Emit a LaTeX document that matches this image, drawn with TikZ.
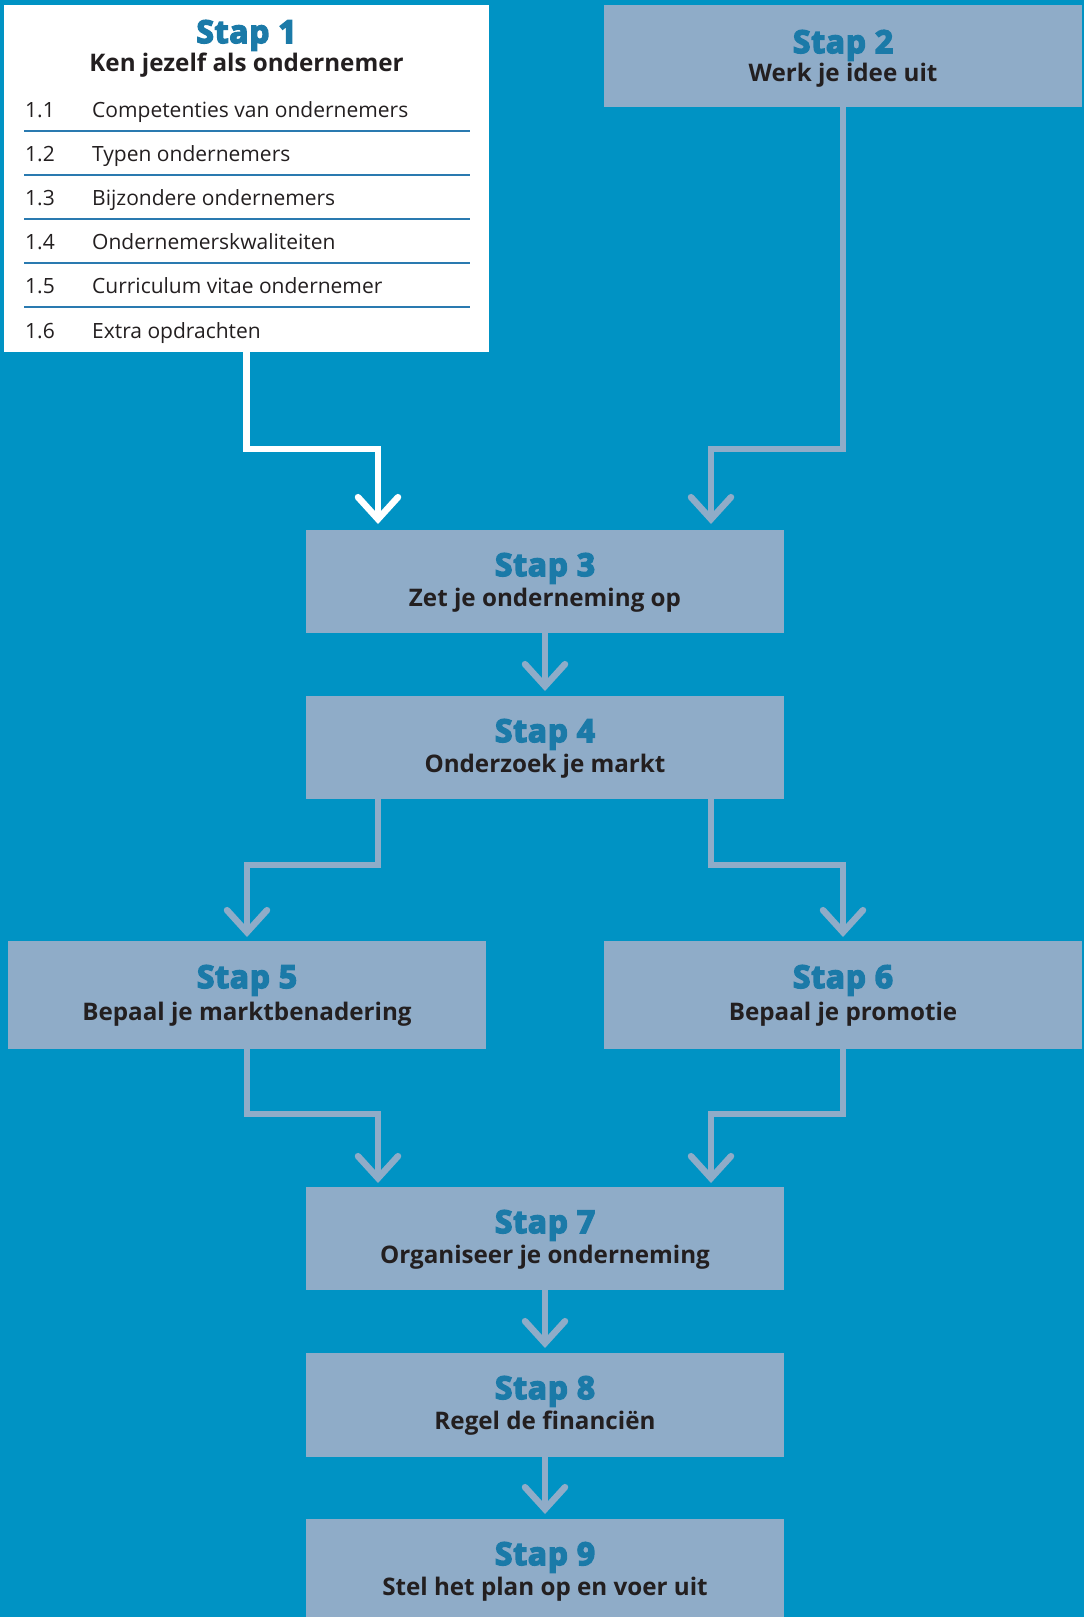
\documentclass[tikz,border=0pt]{standalone}
\usepackage{fontspec}
\setmainfont{Open Sans}
\newfontfamily\stapfont{Open Sans}[FakeBold=5, LetterSpace=3]
\usetikzlibrary{arrows.meta,calc}
\definecolor{bg}{RGB}{0,147,196}
\definecolor{boxc}{RGB}{143,172,200}
\definecolor{titc}{RGB}{27,122,168}
\definecolor{txt}{RGB}{35,31,32}
\definecolor{rulec}{RGB}{42,122,176}
\begin{document}
\begin{tikzpicture}[x=1pt,y=-1pt,
  stepbox/.style={fill=boxc, draw=none, minimum width=478pt, minimum height=103pt, inner sep=0pt, outer sep=0pt},
  stit/.style={anchor=base, inner sep=0pt, text=titc, font=\stapfont\bfseries\fontsize{31.5}{31.5}\selectfont},
  ssub/.style={anchor=base, inner sep=0pt, text=txt, font=\bfseries\fontsize{24.2}{24.2}\selectfont},
  item/.style={anchor=base west, inner sep=0pt, text=txt, font=\fontsize{21}{21}\selectfont},
  conn/.style={draw=boxc, line width=6.5pt, line join=miter, -{Straight Barb[length=22pt,width=40pt,line cap=round,line join=miter]}},
  wconn/.style={conn, draw=white},
  rulel/.style={draw=rulec, line width=2pt}]
\useasboundingbox (0,0) rectangle (1084,1617);
\fill[bg] (0,0) rectangle (1084,1617);
% boxes
\node[fill=white, minimum width=485pt, minimum height=347pt, inner sep=0pt, outer sep=0pt] (s1) at (246.5,178.5) {};
\node[stepbox, minimum height=102pt] (s2) at (843,56) {};
\node[stepbox] (s3) at (545,581.5) {};
\node[stepbox] (s4) at (545,747.5) {};
\node[stepbox, minimum height=108pt] (s5) at (247,995) {};
\node[stepbox, minimum height=108pt] (s6) at (843,995) {};
\node[stepbox] (s7) at (545,1238.5) {};
\node[stepbox, minimum height=104pt] (s8) at (545,1405) {};
\node[stepbox] (s9) at (545,1570.5) {};
% stap 1 content
\node[stit] (t1) at (246.5,43) {Stap 1};
\node[ssub] (u1) at (246.5,71) {Ken jezelf als ondernemer};
\foreach \n/\txtc [count=\i from 0] in {1.1/Competenties van ondernemers, 1.2/Typen ondernemers, 1.3/Bijzondere ondernemers, 1.4/Ondernemerskwaliteiten, 1.5/Curriculum vitae ondernemer, 1.6/Extra opdrachten}{
  \node[item] (n\i) at (25,117+44.2*\i) {\n};
  \node[item] (l\i) at (92,117+44.2*\i) {\txtc};
}
\foreach \i in {0,...,4}{
  \draw[rulel] (24,131+44*\i) -- (470,131+44*\i);
}
% titles
\node[stit] (t2) at ($(s2.north)+(0,48)$) {Stap 2};
\node[ssub] (u2) at ($(s2.north)+(0,76)$) {Werk je idee uit};
\node[stit] (t3) at ($(s3.north)+(0,46)$) {Stap 3};
\node[ssub] (u3) at ($(s3.north)+(0,76)$) {Zet je onderneming op};
\node[stit] (t4) at ($(s4.north)+(0,46)$) {Stap 4};
\node[ssub] (u4) at ($(s4.north)+(0,76)$) {Onderzoek je markt};
\node[stit] (t5) at ($(s5.north)+(0,47)$) {Stap 5};
\node[ssub] (u5) at ($(s5.north)+(0,79)$) {Bepaal je marktbenadering};
\node[stit] (t6) at ($(s6.north)+(0,47)$) {Stap 6};
\node[ssub] (u6) at ($(s6.north)+(0,79)$) {Bepaal je promotie};
\node[stit] (t7) at ($(s7.north)+(0,46)$) {Stap 7};
\node[ssub] (u7) at ($(s7.north)+(0,76)$) {Organiseer je onderneming};
\node[stit] (t8) at ($(s8.north)+(0,46)$) {Stap 8};
\node[ssub] (u8) at ($(s8.north)+(0,76)$) {Regel de financiën};
\node[stit] (t9) at ($(s9.north)+(0,46)$) {Stap 9};
\node[ssub] (u9) at ($(s9.north)+(0,76)$) {Stel het plan op en voer uit};
% connectors
\draw[wconn] (s1.south) -- ++(0,97) -| ($(s3.north)+(-167,-6)$);
\draw[conn] (s2.south) -- ++(0,342) -| ($(s3.north)+(166,-6)$);
\draw[conn] (s3.south) -- ($(s4.north)+(0,-5)$);
\draw[conn] ($(s4.south)+(-167,0)$) -- ++(0,66) -| ($(s5.north)+(0,-4)$);
\draw[conn] ($(s4.south)+(166,0)$) -- ++(0,66) -| ($(s6.north)+(0,-4)$);
\draw[conn] (s5.south) -- ++(0,65) -| ($(s7.north)+(-167,-4)$);
\draw[conn] (s6.south) -- ++(0,65) -| ($(s7.north)+(166,-4)$);
\draw[conn] (s7.south) -- ($(s8.north)+(0,-5)$);
\draw[conn] (s8.south) -- ($(s9.north)+(0,-5)$);
\end{tikzpicture}
\end{document}
